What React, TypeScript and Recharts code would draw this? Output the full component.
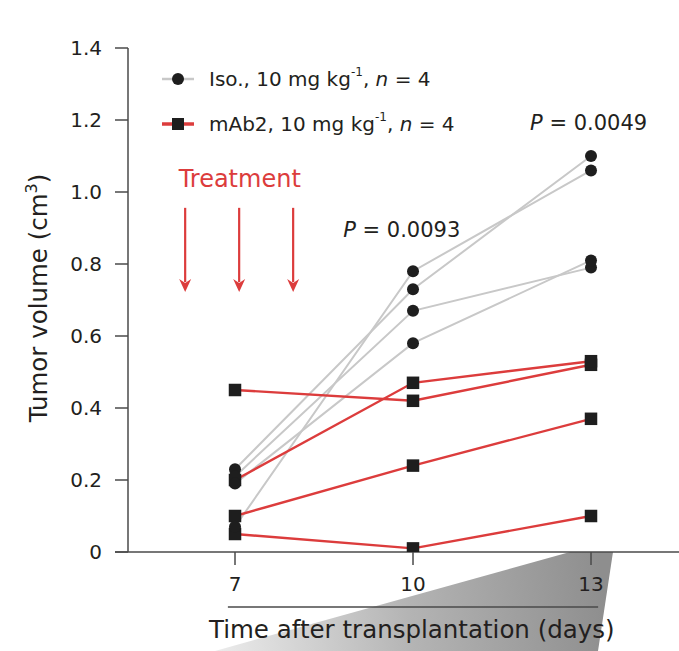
import React from 'react';
import { ComposedChart, Legend, Line, ReferenceDot, ReferenceLine, Scatter, XAxis, YAxis } from 'recharts';

// Data
const days = [7, 10, 13];
const isoMice = [
  [0.07, 0.78, 1.06],
  [0.23, 0.73, 1.1],
  [0.21, 0.67, 0.79],
  [0.19, 0.58, 0.81],
];
const mab2Mice = [
  [0.45, 0.42, 0.52],
  [0.2, 0.47, 0.53],
  [0.1, 0.24, 0.37],
  [0.05, 0.01, 0.1],
];
const yTicks = [0, 0.2, 0.4, 0.6, 0.8, 1.0, 1.2, 1.4];
const treatmentDays = [6.16, 7.07, 7.98];
const pLabels = ['0.0093', '0.0049'];
const legendItems = [
  { name: 'Iso.', dose: '10 mg kg', n: 4 },
  { name: 'mAb2', dose: '10 mg kg', n: 4 },
];

// Styles
const FONT = '"DejaVu Sans", sans-serif';
const TEXT = '#231f20';
const AXIS = '#4a4a4a';
const GRAY = '#c8c8c8';
const RED = '#dc3c3c';
const MARK = '#1e1e1e';
const X_MIN = 4.9775;
const X_MAX = 14.483;
const Y_AXIS_AT = 5.1966;

const rows = days.map((day, i) => {
  const row: Record<string, number> = { day };
  isoMice.forEach((m, k) => (row[`iso${k}`] = m[i]));
  mab2Mice.forEach((m, k) => (row[`mab${k}`] = m[i]));
  return row;
});
const isoPoints = isoMice.flatMap((m) => m.map((v, i) => ({ day: days[i], v })));
const mab2Points = mab2Mice.flatMap((m) => m.map((v, i) => ({ day: days[i], v })));

const CircleMark = (props: any) => <circle cx={props.cx} cy={props.cy} r={6} fill={MARK} />;
const SquareMark = (props: any) => (
  <rect x={props.cx - 6.25} y={props.cy - 6.25} width={12.5} height={12.5} fill={MARK} />
);

const Arrow = (props: any) => {
  const { x1, y1, x2, y2 } = props;
  const head = 13;
  return (
    <g>
      <line x1={x1} y1={y1} x2={x2} y2={y2 - head + 3} stroke={RED} strokeWidth={2.2} />
      <path d={`M${x2},${y2} L${x2 - 6},${y2 - head} L${x2},${y2 - head + 4} L${x2 + 6},${y2 - head} Z`} fill={RED} />
    </g>
  );
};

const YTick = (props: any) => {
  const { x, y, payload } = props;
  return (
    <g>
      <line x1={x} x2={x + 13} y1={y} y2={y} stroke={AXIS} strokeWidth={1.5} />
      <text x={x - 13} y={y} dy="0.36em" textAnchor="end" fontSize={20} fill={TEXT} fontFamily={FONT}>
        {payload.value === 0 ? '0' : payload.value.toFixed(1)}
      </text>
    </g>
  );
};

const YTitle = (props: any) => {
  const vb = props.viewBox || { y: 48, height: 504 };
  const cx = 47;
  const cy = vb.y + vb.height / 2 - 2;
  return (
    <text x={cx} y={cy} transform={`rotate(-90, ${cx}, ${cy})`} textAnchor="middle" fontSize={24.5} fill={TEXT} fontFamily={FONT}>
      <tspan>Tumor volume (cm</tspan>
      <tspan dy={-10} fontSize={16}>3</tspan>
      <tspan dy={10}>)</tspan>
    </text>
  );
};

const centerOf = (props: any) => {
  const vb = props.viewBox || {};
  return { x: (vb.x ?? 0) + (vb.width ?? 0) / 2, y: (vb.y ?? 0) + (vb.height ?? 0) / 2 };
};

const PText = (p: string) => (props: any) => {
  const c = centerOf(props);
  return (
    <text x={c.x} y={c.y} dy="0.36em" textAnchor="middle" fontSize={21} fill={TEXT} fontFamily={FONT}>
      <tspan fontStyle="italic">P</tspan>
      <tspan> = {p}</tspan>
    </text>
  );
};

const PlainText = (value: string, size: number, color: string) => (props: any) => {
  const c = centerOf(props);
  return (
    <text x={c.x} y={c.y} dy="0.36em" textAnchor="middle" fontSize={size} fill={color} fontFamily={FONT}>
      {value}
    </text>
  );
};

const LegendBox = () => (
  <div style={{ fontFamily: FONT, fontSize: 20, color: TEXT }}>
    {legendItems.map((item, i) => (
      <div key={item.name} style={{ display: 'flex', alignItems: 'center', height: 45, whiteSpace: 'nowrap' }}>
        <svg width={36} height={20}>
          <line x1={2} x2={34} y1={10} y2={10} stroke={i === 0 ? GRAY : RED} strokeWidth={i === 0 ? 2.5 : 3.5} />
          {i === 0 ? <circle cx={18} cy={10} r={6} fill={MARK} /> : <rect x={12} y={4} width={12} height={12} fill={MARK} />}
        </svg>
        <span style={{ marginLeft: 13 }}>
          {item.name}, {item.dose}
          <sup style={{ fontSize: '0.6em', lineHeight: 0, verticalAlign: '0.8em' }}>-1</sup>, <i>n</i> = {item.n}
        </span>
      </div>
    ))}
  </div>
);

export default function App() {
  return (
    <div style={{ position: 'relative', width: 679, height: 651 }}>
      <style>{'body{margin:0}'}</style>
      <svg width={679} height={651} style={{ position: 'absolute', left: 0, top: 0 }}>
        <defs>
          <linearGradient id="wedge" gradientUnits="userSpaceOnUse" x1={605} y1={600} x2={215} y2={651}>
            <stop offset="0" stopColor="#8e8e8e" />
            <stop offset="0.5" stopColor="#b4b4b4" />
            <stop offset="1" stopColor="#ececec" />
          </linearGradient>
        </defs>
        <polygon points="570,552 613,552 598,651 215,651" fill="url(#wedge)" />
      </svg>
      <div style={{ position: 'absolute', left: 0, top: 0 }}>
        <ComposedChart width={679} height={651} data={rows} margin={{ top: 48, right: 0, bottom: 0, left: 0 }}>
          <XAxis
            dataKey="day"
            type="number"
            domain={[X_MIN, X_MAX]}
            allowDataOverflow
            ticks={days}
            height={99}
            tickSize={13}
            tickMargin={12}
            axisLine={{ stroke: AXIS, strokeWidth: 1.5 }}
            tickLine={{ stroke: AXIS, strokeWidth: 1.5 }}
            tick={{ fontSize: 20, fill: TEXT, fontFamily: FONT }}
          />
          <YAxis
            type="number"
            domain={[0, 1.4]}
            allowDataOverflow
            ticks={yTicks}
            width={115}
            axisLine={false}
            tickLine={false}
            tickSize={0}
            tickMargin={0}
            tick={<YTick />}
            label={YTitle}
          />
          <Legend layout="vertical" align="center" verticalAlign="middle" wrapperStyle={{ left: 160, top: 56, width: 330 }} content={LegendBox} />
          <ReferenceLine x={Y_AXIS_AT} stroke={AXIS} strokeWidth={1.5} />
          <ReferenceLine
            segment={[{ x: 6.88, y: -0.153 }, { x: 13.12, y: -0.153 }]}
            ifOverflow="visible"
            stroke={AXIS}
            strokeWidth={1.5}
          />
          {treatmentDays.map((d) => (
            <ReferenceLine key={d} segment={[{ x: d, y: 0.956 }, { x: d, y: 0.722 }]} shape={Arrow} />
          ))}
          <ReferenceDot x={7.08} y={1.038} r={0} stroke="none" fill="none" ifOverflow="visible" label={PlainText('Treatment', 24, RED)} />
          <ReferenceDot x={9.81} y={0.897} r={0} stroke="none" fill="none" ifOverflow="visible" label={PText(pLabels[0])} />
          <ReferenceDot x={12.96} y={1.193} r={0} stroke="none" fill="none" ifOverflow="visible" label={PText(pLabels[1])} />
          <ReferenceDot
            x={9.98}
            y={-0.214}
            r={0}
            stroke="none"
            fill="none"
            ifOverflow="visible"
            label={PlainText('Time after transplantation (days)', 24.5, TEXT)}
          />
          {isoMice.map((_, k) => (
            <Line key={`iso${k}`} dataKey={`iso${k}`} stroke={GRAY} strokeWidth={2} dot={false} activeDot={false} isAnimationActive={false} />
          ))}
          {mab2Mice.map((_, k) => (
            <Line key={`mab${k}`} dataKey={`mab${k}`} stroke={RED} strokeWidth={2.4} dot={false} activeDot={false} isAnimationActive={false} />
          ))}
          <Scatter data={mab2Points} dataKey="v" shape={SquareMark} isAnimationActive={false} />
          <Scatter data={isoPoints} dataKey="v" shape={CircleMark} isAnimationActive={false} />
        </ComposedChart>
      </div>
    </div>
  );
}
